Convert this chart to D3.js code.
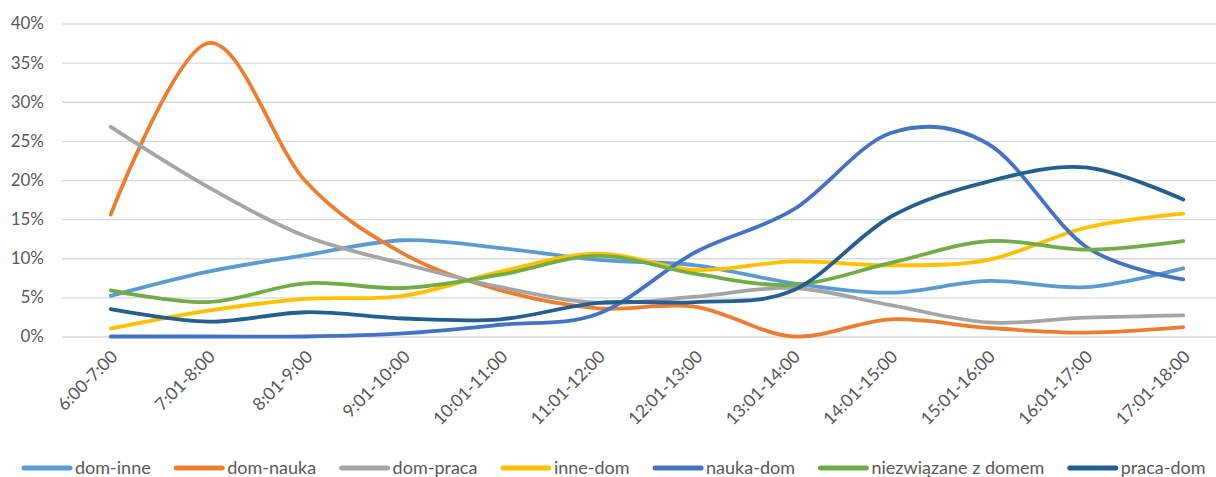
<!DOCTYPE html>
<html>
<head>
<meta charset="utf-8">
<script src="https://cdn.jsdelivr.net/npm/d3@7"></script>
<style>
  body { margin: 0; background: #fff; }
  text { font-family: Lato, "Open Sans", sans-serif; fill: #595959; }
</style>
</head>
<body>
<div id="canvas"></div>
<script>
"use strict"

/* Data (percent) */
let categories = ["6:00-7:00", "7:01-8:00", "8:01-9:00", "9:01-10:00", "10:01-11:00", "11:01-12:00",
    "12:01-13:00", "13:01-14:00", "14:01-15:00", "15:01-16:00", "16:01-17:00", "17:01-18:00"];
let yTicks = [0, 5, 10, 15, 20, 25, 30, 35, 40];

let domInne = [5.2, 8.3, 10.4, 12.3, 11.3, 9.8, 9.1, 6.8, 5.6, 7.1, 6.3, 8.7];
let domNauka = [15.6, 37.5, 19.8, 10.6, 5.9, 3.6, 3.8, 0, 2.2, 1.1, 0.5, 1.2];
let domPraca = [26.8, 19.1, 12.8, 9.3, 6.3, 4.3, 5.1, 6.2, 4.0, 1.8, 2.4, 2.7];
let inneDom = [1.0, 3.3, 4.8, 5.2, 8.3, 10.6, 8.5, 9.6, 9.1, 9.8, 13.9, 15.7];
let naukaDom = [0, 0, 0, 0.4, 1.5, 2.9, 10.8, 16.2, 26.0, 24.6, 11.5, 7.3];
let niezwiazane = [5.9, 4.4, 6.8, 6.2, 7.9, 10.3, 8.0, 6.6, 9.4, 12.2, 11.1, 12.2];
let pracaDom = [3.5, 1.9, 3.1, 2.3, 2.2, 4.3, 4.4, 5.9, 15.3, 19.8, 21.6, 17.5];

let seriesNames = ["dom-inne", "dom-nauka", "dom-praca", "inne-dom", "nauka-dom", "niezwiązane z domem", "praca-dom"];
let seriesValues = [domInne, domNauka, domPraca, inneDom, naukaDom, niezwiazane, pracaDom];
let seriesColors = ["#5B9BD5", "#ED7D31", "#A5A5A5", "#FFC000", "#4472C4", "#70AD47", "#255E91"];

/* Drawing configuration */
let svgWidth = 1216;
let svgHeight = 477;
let plotLeft = 62;
let step = 97.5;
let plotTop = 23.5;
let plotBottom = 336.5;

let svg = d3.select("#canvas")
    .append("svg")
    .attr("width", svgWidth)
    .attr("height", svgHeight);

let xScale = d3.scalePoint()
    .domain(categories)
    .range([plotLeft, plotLeft + step * categories.length])
    .padding(0.5);

let yScale = d3.scaleLinear()
    .domain([0, 40])
    .range([plotBottom, plotTop]);

/* gridlines + y labels */
let yAxis = svg.append("g")
    .attr("transform", "translate(" + plotLeft + ",0)")
    .call(d3.axisLeft(yScale)
        .tickValues(yTicks)
        .tickSize(-(svgWidth - plotLeft))
        .tickPadding(18)
        .tickFormat(d => d + "%"));
yAxis.select(".domain").remove();
yAxis.selectAll(".tick line").attr("stroke", "#d9d9d9").attr("stroke-width", 1.3);
yAxis.selectAll(".tick text")
    .attr("font-size", 17)
    .attr("font-family", "Lato")
    .attr("fill", "#595959");

/* x labels */
let xAxis = svg.append("g")
    .attr("transform", "translate(0," + plotBottom + ")")
    .call(d3.axisBottom(xScale).tickSize(0).tickPadding(0));
xAxis.select(".domain").remove();
xAxis.selectAll(".tick text")
    .attr("font-size", 17.5)
    .attr("font-family", "Lato")
    .attr("fill", "#595959")
    .attr("text-anchor", "end")
    .attr("dy", "0.35em")
    .attr("transform", "translate(3,17) rotate(-45)");

/* lines */
let line = d3.line()
    .x((d, i) => xScale(categories[i]))
    .y(d => yScale(d))
    .curve(d3.curveCardinal.tension(0));

svg.append("g")
    .selectAll("path")
    .data(seriesValues)
    .join("path")
    .attr("fill", "none")
    .attr("stroke", (d, i) => seriesColors[i])
    .attr("stroke-width", 3.8)
    .attr("stroke-linecap", "round")
    .attr("stroke-linejoin", "round")
    .attr("d", d => line(d));

/* legend */
let legendY = 468;
let legend = svg.append("g");
let lx = 24;
seriesNames.forEach(function(name, i) {
    legend.append("line")
        .attr("x1", lx)
        .attr("x2", lx + 46)
        .attr("y1", legendY)
        .attr("y2", legendY)
        .attr("stroke", seriesColors[i])
        .attr("stroke-width", 5)
        .attr("stroke-linecap", "round");
    let t = legend.append("text")
        .attr("x", lx + 51)
        .attr("y", legendY)
        .attr("dy", "0.35em")
        .attr("font-size", 18)
        .attr("font-family", "Lato")
        .attr("fill", "#595959")
        .text(name);
    lx = lx + 51 + t.node().getComputedTextLength() + 25.5;
});
</script>
</body>
</html>
